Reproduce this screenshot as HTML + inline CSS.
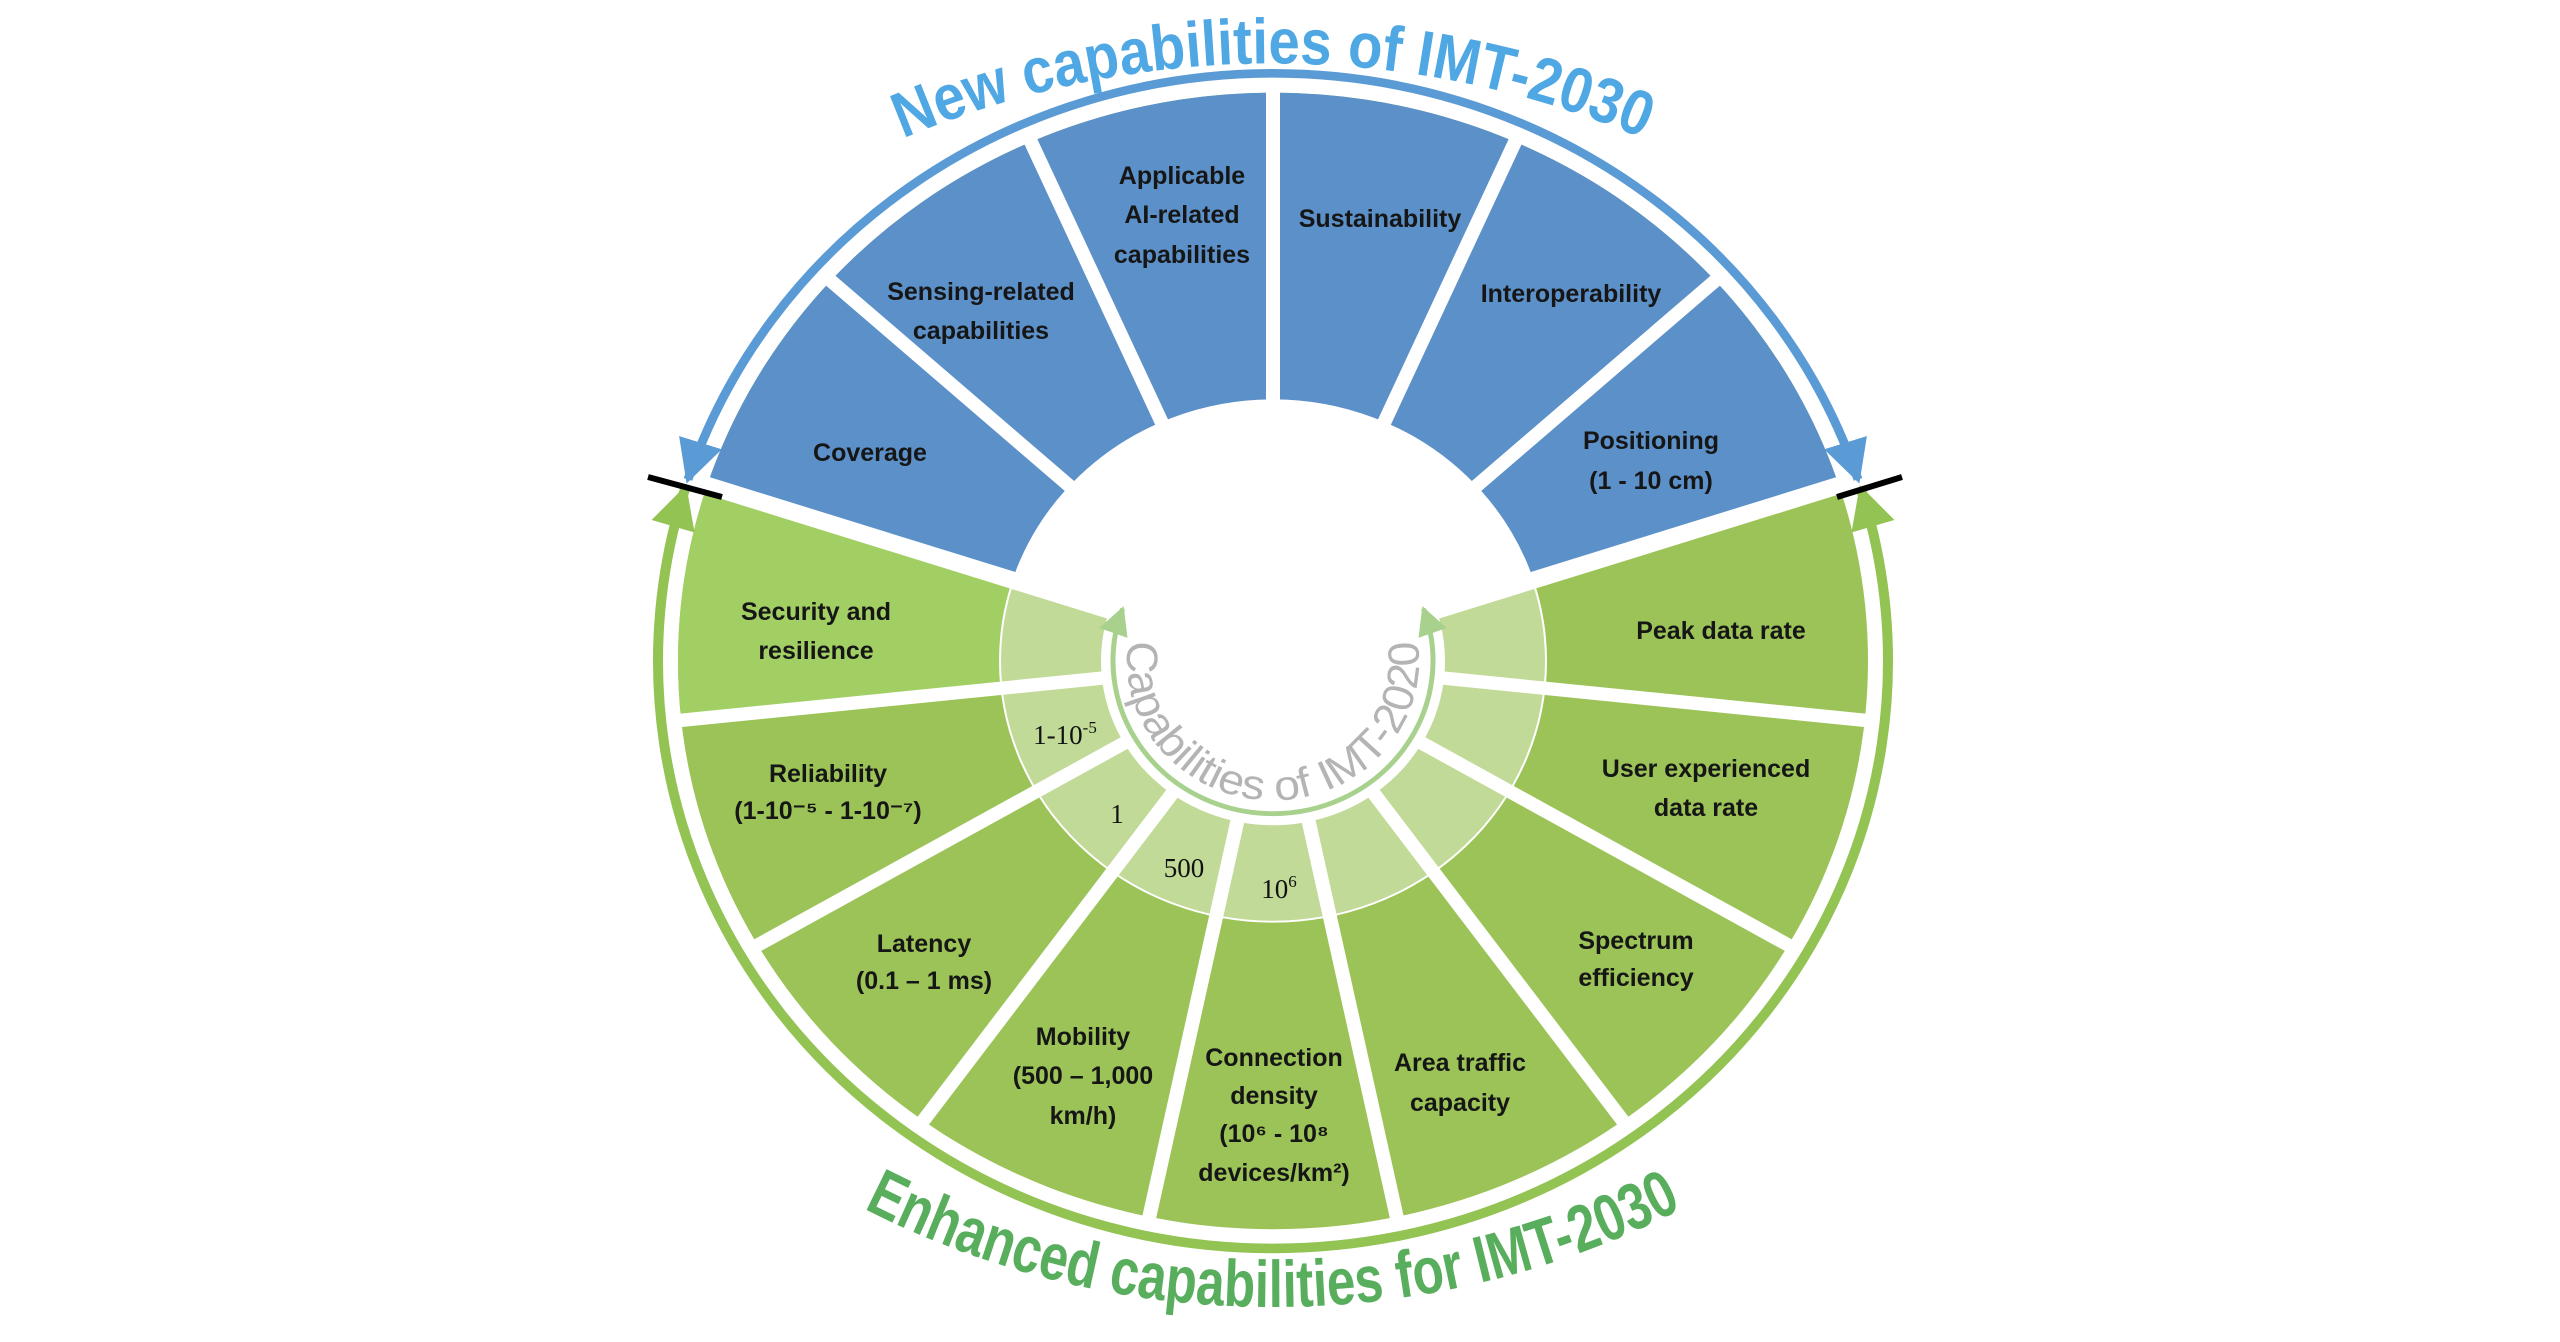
<!DOCTYPE html>
<html><head><meta charset="utf-8"><style>
html,body{margin:0;padding:0;background:#fff;}
svg{display:block;}
.l{font-family:"Liberation Sans",sans-serif;font-weight:bold;font-size:25px;fill:#161616;text-anchor:middle;}
.s{font-family:"Liberation Serif",serif;font-size:27px;fill:#111;text-anchor:middle;}
</style></head><body>
<svg width="2560" height="1342" viewBox="0 0 2560 1342" xmlns="http://www.w3.org/2000/svg">
<defs>
<marker id="ab" viewBox="0 0 10 10" refX="9" refY="5" markerWidth="5" markerHeight="5" orient="auto-start-reverse" markerUnits="strokeWidth"><path d="M0,0 L10,5 L0,10 Z" fill="#5b9bd5"/></marker>
<marker id="ag" viewBox="0 0 10 10" refX="9" refY="5" markerWidth="4.5" markerHeight="4.5" orient="auto-start-reverse" markerUnits="strokeWidth"><path d="M0,0 L10,5 L0,10 Z" fill="#92c353"/></marker>
<marker id="ai" viewBox="0 0 10 10" refX="9" refY="5" markerWidth="6" markerHeight="6" orient="auto-start-reverse" markerUnits="strokeWidth"><path d="M0,0 L10,5 L0,10 Z" fill="#a9d18e"/></marker>
<path id="tp" d="M895,142 A948,948 0 0 1 1651,142"/>
<path id="bp" d="M857,1205 A899,899 0 0 0 1689,1205"/>
<path id="ip" d="M-144.6,-20.3 A146,146 0 1 0 144.6,-20.3"/>
</defs>
<g transform="translate(1273,661) scale(1,0.955)">
  <circle r="595" fill="#9bc357"/>
  <path d="M0,0 L-565.9,-183.9 A595,595 0 0 1 565.9,-183.9 Z" fill="#5b90c8"/>
  <path d="M0,0 L-565.9,-183.9 A595,595 0 0 0 -591.7,62.2 Z" fill="#a2cf63"/>
  <circle r="273" fill="#c2da97"/>
  <circle r="273" fill="none" stroke="#fff" stroke-width="2"/>
  <path d="M0,0 L-259.6,-84.4 A273,273 0 0 1 259.6,-84.4 Z" fill="#fff"/>
  <circle r="170" fill="#fff"/>
  <g stroke="#fff" stroke-width="14">
    <line x1="0" y1="0" x2="453.3" y2="-408.2"/>
    <line x1="0" y1="0" x2="248.1" y2="-557.2"/>
    <line x1="0" y1="0" x2="0" y2="-610"/>
    <line x1="0" y1="0" x2="-248.1" y2="-557.2"/>
    <line x1="0" y1="0" x2="-453.3" y2="-408.2"/>
    <line x1="0" y1="0" x2="-606.6" y2="63.7"/>
    <line x1="0" y1="0" x2="-528.3" y2="305"/>
    <line x1="0" y1="0" x2="-358.6" y2="493.5"/>
    <line x1="0" y1="0" x2="-126.8" y2="596.6"/>
    <line x1="0" y1="0" x2="126.8" y2="596.6"/>
    <line x1="0" y1="0" x2="358.6" y2="493.5"/>
    <line x1="0" y1="0" x2="528.3" y2="305"/>
    <line x1="0" y1="0" x2="606.6" y2="63.7"/>
  </g>
  <g stroke="#fff" stroke-width="18">
    <line x1="0" y1="0" x2="580.2" y2="-188.5"/>
    <line x1="0" y1="0" x2="-580.2" y2="-188.5"/>
  </g>
  <circle r="172" fill="#fff"/>
  <path d="M-585.0,-190.1 A615,615 0 0 1 585.0,-190.1" fill="none" stroke="#5b9bd5" stroke-width="9" marker-start="url(#ab)" marker-end="url(#ab)"/>
  <path d="M-588.1,-179.8 A615,615 0 1 0 588.1,-179.8" fill="none" stroke="#92c353" stroke-width="10" marker-start="url(#ag)" marker-end="url(#ag)"/>
  <path d="M-150.4,-54.7 A160,160 0 1 0 150.4,-54.7" fill="none" stroke="#a9d18e" stroke-width="5" marker-start="url(#ai)" marker-end="url(#ai)"/>
  <text font-family="Liberation Sans,sans-serif" font-size="44" fill="#b4b4b4"><textPath href="#ip" startOffset="50%" text-anchor="middle" textLength="500" lengthAdjust="spacingAndGlyphs">Capabilities of IMT-2020</textPath></text>
</g>
<line x1="648" y1="477" x2="722" y2="497" stroke="#000" stroke-width="6"/>
<line x1="1837" y1="497" x2="1902" y2="477" stroke="#000" stroke-width="6"/>
<text font-family="Liberation Sans,sans-serif" font-weight="bold" font-size="64" fill="#4fa8e4"><textPath href="#tp" startOffset="50%" text-anchor="middle" textLength="760" lengthAdjust="spacingAndGlyphs">New capabilities of IMT-2030</textPath></text>
<text font-family="Liberation Sans,sans-serif" font-weight="bold" font-size="66" fill="#58ae5c"><textPath href="#bp" startOffset="50%" text-anchor="middle" textLength="850" lengthAdjust="spacingAndGlyphs">Enhanced capabilities for IMT-2030</textPath></text>

<text class="l" x="870" y="461">Coverage</text>
<text class="l" x="981" y="300">Sensing-related</text>
<text class="l" x="981" y="339">capabilities</text>
<text class="l" x="1182" y="184">Applicable</text>
<text class="l" x="1182" y="223">AI-related</text>
<text class="l" x="1182" y="263">capabilities</text>
<text class="l" x="1380" y="227">Sustainability</text>
<text class="l" x="1571" y="302">Interoperability</text>
<text class="l" x="1651" y="449">Positioning</text>
<text class="l" x="1651" y="489">(1 - 10 cm)</text>
<text class="l" x="1721" y="639">Peak data rate</text>
<text class="l" x="1706" y="777">User experienced</text>
<text class="l" x="1706" y="816">data rate</text>
<text class="l" x="1636" y="949">Spectrum</text>
<text class="l" x="1636" y="986">efficiency</text>
<text class="l" x="1460" y="1071">Area traffic</text>
<text class="l" x="1460" y="1111">capacity</text>
<text class="l" x="1274" y="1066">Connection</text>
<text class="l" x="1274" y="1104">density</text>
<text class="l" x="1274" y="1142">(10⁶ -  10⁸</text>
<text class="l" x="1274" y="1181">devices/km²)</text>
<text class="l" x="1083" y="1045">Mobility</text>
<text class="l" x="1083" y="1084">(500 – 1,000</text>
<text class="l" x="1083" y="1124">km/h)</text>
<text class="l" x="924" y="952">Latency</text>
<text class="l" x="924" y="989">(0.1 – 1 ms)</text>
<text class="l" x="828" y="782">Reliability</text>
<text class="l" x="828" y="819">(1-10⁻⁵ - 1-10⁻⁷)</text>
<text class="l" x="816" y="620">Security and</text>
<text class="l" x="816" y="659">resilience</text>

<text class="s" x="1065" y="744">1-10<tspan font-size="17" dy="-11">-5</tspan></text>
<text class="s" x="1117" y="823">1</text>
<text class="s" x="1184" y="877">500</text>
<text class="s" x="1279" y="898">10<tspan font-size="17" dy="-11">6</tspan></text>
</svg>
</body></html>
